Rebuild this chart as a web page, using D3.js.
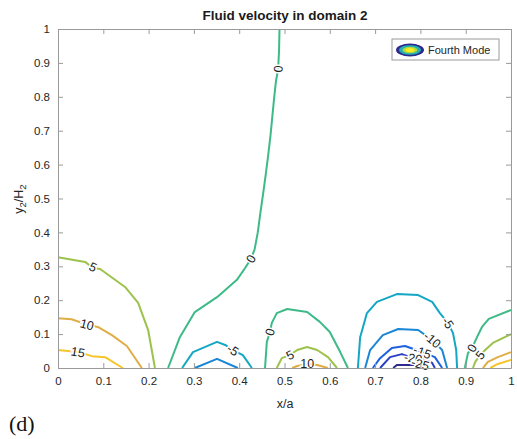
<!DOCTYPE html>
<html>
<head>
<meta charset="utf-8">
<script src="https://cdn.jsdelivr.net/npm/d3@7"></script>
<style>
  html, body { margin: 0; padding: 0; background: #fff; }
  svg { display: block; font-family: "Liberation Sans", Arial, sans-serif; }
</style>
</head>
<body>
<svg id="chart" width="517" height="439"></svg>
<script>
// Axis ticks
const xTicks = [0, 0.1, 0.2, 0.3, 0.4, 0.5, 0.6, 0.7, 0.8, 0.9, 1];
const yTicks = [0, 0.1, 0.2, 0.3, 0.4, 0.5, 0.6, 0.7, 0.8, 0.9, 1];

// Contour levels and their colours (parula-like)
const levels = [-25, -20, -15, -10, -5, 0, 5, 10, 15];
const levelColors = ["#302a8c", "#2a40c4", "#1f60de", "#1a86d6", "#14a7c4", "#3dba88", "#9dc24c", "#e0ad45", "#f6c52a"];

// Contour polylines [x/a, y2/H2] for each level
const contourLines = [
  { level: 15, pts: [[0, 0.053], [0.044, 0.047], [0.075, 0.035], [0.104, 0.032], [0.143, 0]] },
  { level: 10, pts: [[0, 0.147], [0.03, 0.144], [0.064, 0.128], [0.088, 0.121], [0.119, 0.097], [0.152, 0.065], [0.185, 0]] },
  { level: 5, pts: [[0, 0.327], [0.06, 0.313], [0.077, 0.295], [0.093, 0.292], [0.148, 0.239], [0.177, 0.192], [0.199, 0.112], [0.214, 0]] },
  { level: 0, pts: [[0.243, 0], [0.269, 0.091], [0.302, 0.165], [0.351, 0.209], [0.395, 0.26], [0.413, 0.295], [0.426, 0.322], [0.434, 0.35], [0.441, 0.4], [0.447, 0.46], [0.453, 0.516], [0.459, 0.575], [0.464, 0.628], [0.469, 0.685], [0.473, 0.74], [0.477, 0.795], [0.481, 0.845], [0.486, 0.882], [0.488, 0.938], [0.489, 1]] },
  { level: -5, pts: [[0.274, 0], [0.298, 0.047], [0.351, 0.077], [0.369, 0.068], [0.386, 0.053], [0.408, 0.038], [0.428, 0]] },
  { level: -10, pts: [[0.302, 0], [0.351, 0.027], [0.397, 0]] },
  { level: 0, pts: [[0.457, 0], [0.461, 0.077], [0.468, 0.106], [0.472, 0.133], [0.483, 0.162], [0.506, 0.174], [0.55, 0.165], [0.578, 0.136], [0.6, 0.106], [0.623, 0.047], [0.64, 0]] },
  { level: 5, pts: [[0.483, 0], [0.494, 0.029], [0.512, 0.038], [0.528, 0.053], [0.55, 0.062], [0.572, 0.053], [0.596, 0.032], [0.616, 0]] },
  { level: 10, pts: [[0.517, 0], [0.528, 0.006], [0.55, 0.012], [0.572, 0.009], [0.596, 0]] },
  { level: -5, pts: [[0.662, 0], [0.667, 0.091], [0.682, 0.162], [0.704, 0.195], [0.748, 0.218], [0.795, 0.215], [0.826, 0.195], [0.843, 0.162], [0.861, 0.133], [0.872, 0.103], [0.879, 0.053], [0.881, 0]] },
  { level: -10, pts: [[0.678, 0], [0.689, 0.053], [0.717, 0.097], [0.751, 0.115], [0.795, 0.112], [0.826, 0.083], [0.848, 0.053], [0.859, 0]] },
  { level: -15, pts: [[0.695, 0], [0.711, 0.029], [0.737, 0.059], [0.766, 0.065], [0.804, 0.047], [0.832, 0.032], [0.848, 0]] },
  { level: -20, pts: [[0.711, 0], [0.733, 0.032], [0.759, 0.041], [0.784, 0.029], [0.806, 0.027], [0.826, 0.015], [0.832, 0]] },
  { level: -25, pts: [[0.74, 0], [0.748, 0.009], [0.795, 0.009], [0.806, 0]] },
  { level: 0, pts: [[0.898, 0], [0.905, 0.044], [0.914, 0.059], [0.925, 0.091], [0.936, 0.121], [0.951, 0.145], [1, 0.171]] },
  { level: 5, pts: [[0.916, 0], [0.921, 0.018], [0.932, 0.038], [0.943, 0.053], [0.96, 0.074], [1, 0.1]] },
  { level: 10, pts: [[0.938, 0], [0.949, 0.018], [0.971, 0.032], [1, 0.047]] },
  { level: 15, pts: [[0.954, 0], [0.971, 0.012], [1, 0.024]] }
];

// Inline contour labels: [x/a, y2/H2, text, rotation in degrees]
const contourLabels = [
  [0.044, 0.047, "15", 10],
  [0.064, 0.128, "10", 15],
  [0.077, 0.298, "5", 25],
  [0.426, 0.322, "0", -60],
  [0.486, 0.882, "0", -85],
  [0.386, 0.053, "-5", 35],
  [0.468, 0.106, "0", -75],
  [0.512, 0.038, "5", -28],
  [0.55, 0.012, "10", 0],
  [0.861, 0.133, "-5", 57],
  [0.826, 0.083, "-10", 40],
  [0.804, 0.047, "-15", 20],
  [0.784, 0.029, "-20", 10],
  [0.8, 0.012, "-25", 15],
  [0.914, 0.059, "0", -60],
  [0.932, 0.038, "5", -50]
];

const legendLabel = "Fourth Mode";
const titleText = "Fluid velocity in domain 2";

const svg = d3.select("#chart");
const x = d3.scaleLinear().domain([0, 1]).range([58, 511]);
const y = d3.scaleLinear().domain([0, 1]).range([368, 29]);
const color = d3.scaleOrdinal().domain(levels).range(levelColors);

const axisColor = "#9a9a9a";
const textColor = "#262626";

// Contour lines
const line = d3.line().x(d => x(d[0])).y(d => y(d[1]));
svg.append("g")
  .selectAll("path")
  .data(contourLines)
  .join("path")
  .attr("d", d => line(d.pts))
  .attr("fill", "none")
  .attr("stroke", d => color(d.level))
  .attr("stroke-width", 2)
  .attr("stroke-linejoin", "round");

// Contour labels with a white halo that breaks the line
svg.append("g")
  .selectAll("text")
  .data(contourLabels)
  .join("text")
  .attr("transform", d => `translate(${x(d[0])},${y(d[1])}) rotate(${d[3]})`)
  .attr("text-anchor", "middle")
  .attr("dy", "0.35em")
  .attr("font-size", 12.5)
  .attr("fill", "#222")
  .attr("stroke", "#fff")
  .attr("stroke-width", 3)
  .attr("paint-order", "stroke")
  .text(d => d[2]);

// Axes (MATLAB-style inward ticks on all four sides)
const tickLen = 5;
const xb = svg.append("g").attr("transform", `translate(0,${y(0)})`)
  .call(d3.axisBottom(x).tickValues(xTicks).tickSizeInner(-tickLen).tickSizeOuter(0).tickPadding(9).tickFormat(d3.format("~g")));
const xt = svg.append("g").attr("transform", `translate(0,${y(1)})`)
  .call(d3.axisTop(x).tickValues(xTicks).tickSizeInner(-tickLen).tickSizeOuter(0).tickFormat(""));
const yl = svg.append("g").attr("transform", `translate(${x(0)},0)`)
  .call(d3.axisLeft(y).tickValues(yTicks).tickSizeInner(-tickLen).tickSizeOuter(0).tickPadding(8).tickFormat(d3.format("~g")));
const yr = svg.append("g").attr("transform", `translate(${x(1)},0)`)
  .call(d3.axisRight(y).tickValues(yTicks).tickSizeInner(-tickLen).tickSizeOuter(0).tickFormat(""));
[xb, xt, yl, yr].forEach(g => {
  g.selectAll(".domain").attr("stroke", axisColor);
  g.selectAll(".tick line").attr("stroke", axisColor);
  g.selectAll("text").attr("fill", textColor).attr("font-size", 11.5)
    .attr("font-family", "'Liberation Sans', Arial, sans-serif");
});

// Title
svg.append("text")
  .attr("x", 285).attr("y", 20)
  .attr("text-anchor", "middle")
  .attr("font-size", 13.5).attr("font-weight", "bold")
  .attr("fill", "#1a1a1a")
  .text(titleText);

// Axis labels
svg.append("text")
  .attr("x", 285).attr("y", 408)
  .attr("text-anchor", "middle")
  .attr("font-size", 12.5).attr("fill", textColor)
  .text("x/a");

const ylab = svg.append("text")
  .attr("transform", "translate(23,199) rotate(-90)")
  .attr("text-anchor", "middle")
  .attr("font-size", 12.5).attr("fill", textColor);
ylab.append("tspan").text("y");
ylab.append("tspan").attr("font-size", 9.5).attr("dy", 3).text("2");
ylab.append("tspan").attr("dy", -3).text("/H");
ylab.append("tspan").attr("font-size", 9.5).attr("dy", 3).text("2");

// Legend
const lg = svg.append("g");
lg.append("rect")
  .attr("x", 392).attr("y", 39).attr("width", 107).attr("height", 21)
  .attr("fill", "#fff").attr("stroke", "#9a9a9a");
const iconRings = [
  { rx: 14, ry: 6.5, fill: "#2e2a8c" },
  { rx: 11, ry: 4.8, fill: "#1fb2b4" },
  { rx: 7.5, ry: 3.3, fill: "#b8d43c" },
  { rx: 4.5, ry: 2, fill: "#f5f020" }
];
lg.selectAll("ellipse")
  .data(iconRings)
  .join("ellipse")
  .attr("cx", 410).attr("cy", 50)
  .attr("rx", d => d.rx).attr("ry", d => d.ry)
  .attr("fill", d => d.fill);
lg.append("text")
  .attr("x", 428).attr("y", 54)
  .attr("font-size", 11).attr("fill", textColor)
  .text(legendLabel);

// Panel tag
svg.append("text")
  .attr("x", 9).attr("y", 431)
  .attr("font-family", "'Liberation Serif', 'Times New Roman', serif")
  .attr("font-size", 22).attr("fill", "#111")
  .text("(d)");
</script>
</body>
</html>
